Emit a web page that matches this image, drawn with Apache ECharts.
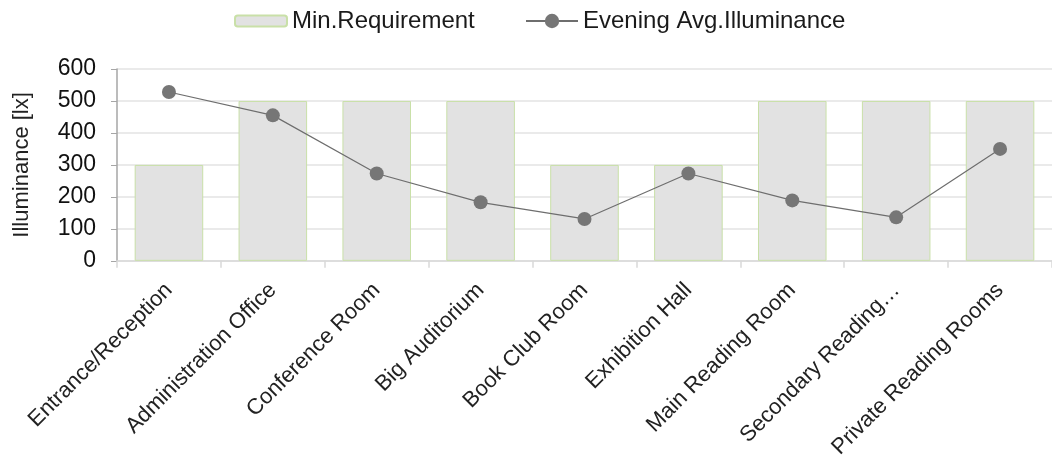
<!DOCTYPE html>
<html lang="en">
<head>
    <meta charset="UTF-8">
    <title>Illuminance</title>
    <style>
        * { margin: 0; padding: 0; }
        #chart { width: 1052px; height: 461px; }
    </style>
</head>
<body>
    <div id="chart"></div>
    <script src="https://cdn.jsdelivr.net/npm/echarts@6/dist/echarts.min.js"></script>
    <script>
        const rooms = ['Entrance/Reception', 'Administration Office', 'Conference Room', 'Big Auditorium',
            'Book Club Room', 'Exhibition Hall', 'Main Reading Room', 'Secondary Reading…', 'Private Reading Rooms'];
        const minRequirement = [300, 500, 500, 500, 300, 300, 500, 500, 500];
        const eveningAvg = [528, 455, 273, 183, 131, 273, 189, 136, 350];

        var myChart = echarts.init(document.getElementById('chart'));
        const font = 'Liberation Sans, Arial, sans-serif';
        const legendText = { fontSize: 24, color: '#1a1a1a', fontFamily: font };

        myChart.setOption({
            animation: false,
            textStyle: { fontFamily: font },
            // two legends so the line icon can have a bigger marker than the bar box
            legend: [{
                top: 4,
                left: 229,
                itemWidth: 52,
                itemHeight: 11,
                textStyle: legendText,
                data: ['Min.Requirement']
            }, {
                top: 4,
                left: 520,
                itemWidth: 52,
                itemHeight: 18,
                textStyle: legendText,
                data: ['Evening Avg.Illuminance']
            }],
            grid: { left: 117, width: 939, top: 69, bottom: 199 },
            xAxis: {
                type: 'category',
                data: rooms,
                axisLine: { lineStyle: { color: '#d9d9d9', width: 1.5 } },
                axisTick: { show: true, length: 7, lineStyle: { color: '#d9d9d9', width: 1.5 } },
                axisLabel: { rotate: 45, fontSize: 22, color: '#222', margin: 26, fontFamily: font }
            },
            yAxis: {
                type: 'value',
                min: 0,
                max: 600,
                interval: 100,
                name: 'Illuminance [lx]',
                nameLocation: 'middle',
                nameGap: 84,
                nameTextStyle: { fontSize: 22, color: '#222', fontFamily: font },
                axisLine: { show: true, lineStyle: { color: '#a6a6a6', width: 1.5 } },
                axisTick: { show: true, length: 6, lineStyle: { color: '#a6a6a6' } },
                axisLabel: { fontSize: 23, color: '#111', margin: 21, fontFamily: font },
                splitLine: { lineStyle: { color: '#e3e3e3', width: 1.5 } }
            },
            series: [{
                name: 'Min.Requirement',
                type: 'bar',
                data: minRequirement,
                barCategoryGap: '34%',
                itemStyle: { color: '#e2e2e2', borderColor: '#c9e0a8', borderWidth: 1 }
            }, {
                name: 'Evening Avg.Illuminance',
                type: 'line',
                data: eveningAvg,
                symbol: 'circle',
                symbolSize: 14,
                itemStyle: { color: '#767676' },
                lineStyle: { color: '#6e6e6e', width: 1.2 }
            }]
        });
    </script>
</body>
</html>
